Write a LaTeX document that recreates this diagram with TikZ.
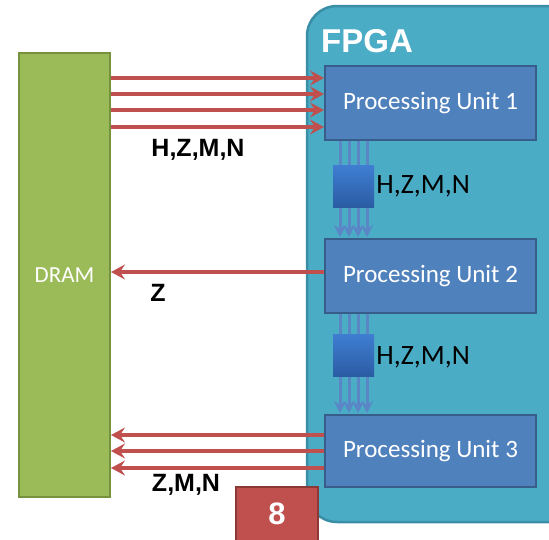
\documentclass[tikz,border=0pt]{standalone}
\usepackage{fontspec}
\setmainfont{Carlito}
\newfontfamily\arialfont{Liberation Sans}
\usetikzlibrary{arrows.meta,calc}
\definecolor{fpgafill}{HTML}{4BACC6}
\definecolor{fpgaline}{HTML}{3A8EA6}
\definecolor{pufill}{HTML}{4F81BD}
\definecolor{puline}{HTML}{385D8A}
\definecolor{dramfill}{HTML}{9BBB59}
\definecolor{dramline}{HTML}{76923C}
\definecolor{redc}{HTML}{C0504D}
\definecolor{redline}{HTML}{8C3836}
\definecolor{vblue}{HTML}{5A86C6}
\definecolor{sqtop}{HTML}{3F7ED2}
\definecolor{sqbot}{HTML}{2B5CA4}
\tikzset{
  pubox/.style={draw=puline, fill=pufill, line width=2pt, minimum width=211pt, minimum height=74pt,
    text=white, font=\fontsize{25}{29}\selectfont, inner sep=0pt},
  drambox/.style={draw=dramline, fill=dramfill, line width=2pt, minimum width=91pt, minimum height=444pt,
    text=white, font=\fontsize{23}{27}\selectfont, inner sep=0pt},
  redarrow/.style={draw=redc, line width=3.5pt, -{Stealth[length=14pt,width=15pt,inset=5pt]}},
  boldlabel/.style={font=\arialfont\bfseries\fontsize{25}{29}\selectfont, text=black, inner sep=0pt},
  vline/.style={draw=vblue, line width=3pt, -{Stealth[length=12pt,width=12pt,inset=4pt]}},
  sqbox/.style={draw=none, top color=sqtop, bottom color=sqbot, minimum width=41pt, minimum height=42pt, inner sep=0pt},
  vlabel/.style={font=\fontsize{28}{32}\selectfont, text=black, anchor=west, inner sep=2pt},
}
\begin{document}
\begin{tikzpicture}[x=1pt,y=-1pt]
\useasboundingbox (0,0) rectangle (549,539);
\clip (0,0) rectangle (549,539);
% FPGA container
\path[draw=fpgaline, fill=fpgafill, line width=2.5pt, rounded corners=30pt] (307,6) rectangle (585,522);
\node[font=\arialfont\bfseries\fontsize{33}{37}\selectfont, text=white, inner sep=0pt] (fpgalabel) at (367,41) {FPGA};
% DRAM
\node[drambox] (dram) at (64.5,275) {DRAM};
% Processing units
\node[pubox] (pu1) at (430.5,103) {Processing Unit 1};
\node[pubox] (pu2) at (430.5,276) {Processing Unit 2};
\node[pubox, minimum height=72pt] (pu3) at (430.5,451) {Processing Unit 3};
% arrows DRAM -> PU1
\foreach \yy in {78,94,110,127} {
  \coordinate (a) at (0,\yy);
  \draw[redarrow] (dram.east |- a) -- (pu1.west |- a);
}
\node[boldlabel] (l1) at (198,150) {H,Z,M,N};
% PU2 -> DRAM
\coordinate (b) at (0,272);
\draw[redarrow] (pu2.west |- b) -- (dram.east |- b);
\node[boldlabel] (l2) at (158,293) {Z};
% PU3 -> DRAM
\foreach \yy in {435,451,468} {
  \coordinate (c) at (0,\yy);
  \draw[redarrow] (pu3.west |- c) -- (dram.east |- c);
}
\node[boldlabel] (l3) at (186,485) {Z,M,N};
% vertical buses
\foreach \dx in {16,25,34,43} {
  \draw[vline] ($(pu1.south west)+(\dx,0)$) -- ($(pu2.north west)+(\dx,-1)$);
  \draw[vline] ($(pu2.south west)+(\dx,0)$) -- ($(pu3.north west)+(\dx,-1)$);
}
\node[sqbox] (sq1) at (353.5,186) {};
\node[vlabel] (v1) at (sq1.east) {H,Z,M,N};
\node[sqbox] (sq2) at (353.5,355) {};
\node[vlabel] (v2) at ($(sq2.east)+(0,2)$) {H,Z,M,N};
% slide number box
\node[draw=redline, fill=redc, line width=2pt, minimum width=82pt, minimum height=62pt, inner sep=0pt] (num) at (277,518) {};
\node[font=\arialfont\bfseries\fontsize{31}{35}\selectfont, text=white, inner sep=0pt] (numt) at (277,514) {8};
\end{tikzpicture}
\end{document}
